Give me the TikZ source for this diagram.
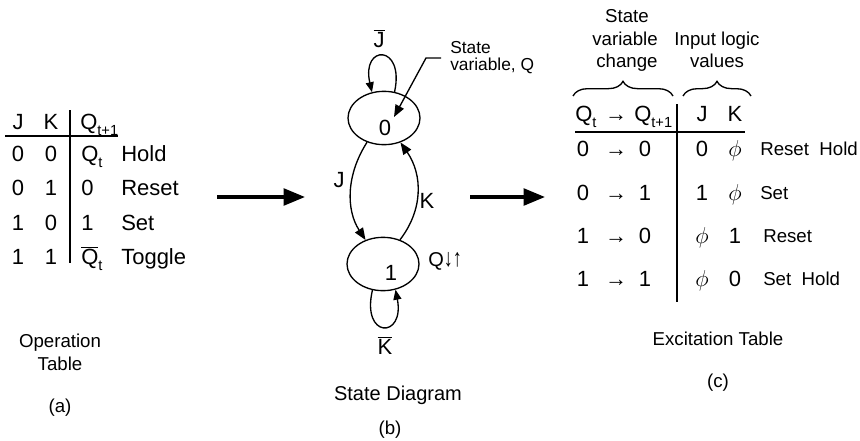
\documentclass[tikz,border=0pt]{standalone}
\usepackage{fontspec}
\usepackage{graphicx}
\setmainfont{Liberation Sans}
\usetikzlibrary{arrows.meta,decorations.pathreplacing,shapes.geometric}
\newcommand{\lowsub}[1]{\raisebox{-0.55ex}{\fontsize{11}{11}\selectfont #1}}
\newcommand{\barred}[1]{$\overline{\mbox{#1}}$}
\begin{document}
\begin{tikzpicture}[x=0.75pt,y=-0.75pt,
  txt/.style={inner sep=0pt, anchor=base, font=\fontsize{16.5}{18}\selectfont},
  lbl/.style={inner sep=0pt, anchor=base west, font=\fontsize{16.5}{18}\selectfont},
  slbl/.style={inner sep=0pt, anchor=base west, font=\fontsize{14}{16}\selectfont},
  captxt/.style={inner sep=0pt, anchor=base, font=\fontsize{14}{16}\selectfont},
  notetxt/.style={inner sep=0pt, anchor=base west, font=\fontsize{13}{14}\selectfont},
  tabrule/.style={line width=1.5pt},
  statebox/.style={draw, ellipse, line width=1pt, minimum width=54pt, minimum height=40pt, inner sep=0pt},
  trans/.style={line width=1pt, -{Triangle[length=9pt,width=7pt]}},
  looptrans/.style={line width=1pt, -{Triangle[length=7.5pt,width=6pt]}},
  bigarrow/.style={line width=2.5pt, -{Triangle[length=16pt,width=12.5pt]}},
  bracestyle/.style={line width=1pt, decorate, decoration={brace, amplitude=11pt}},
]
\useasboundingbox (0,0) rectangle (860,440);

% ---------- (a) operation table ----------
\node[txt] (lj) at (18,129) {J};
\node[txt] (lk) at (51,129) {K};
\node[lbl] (lq) at (80,129) {Q\lowsub{t+1}};
\coordinate (lh1) at (5,136); \coordinate (lh2) at (118,136);
\draw[tabrule] (lh1) -- (lh2);
\coordinate (lv1) at (70,110); \coordinate (lv2) at (70,263);
\draw[tabrule] (lv1) -- (lv2);

\node[txt] (a11) at (18,161) {0}; \node[txt] (a12) at (51,161) {0};
\node[lbl] (a13) at (81,161) {Q\lowsub{t}}; \node[lbl] (a14) at (121,161) {Hold};
\node[txt] (a21) at (18,195) {0}; \node[txt] (a22) at (51,195) {1};
\node[lbl] (a23) at (81,195) {0}; \node[lbl] (a24) at (121,195) {Reset};
\node[txt] (a31) at (18,230) {1}; \node[txt] (a32) at (51,230) {0};
\node[lbl] (a33) at (81,230) {1}; \node[lbl] (a34) at (121,230) {Set};
\node[txt] (a41) at (18,264) {1}; \node[txt] (a42) at (51,264) {1};
\node[lbl] (a43) at (81,264) {\barred{Q}\lowsub{t}}; \node[lbl] (a44) at (121,264) {Toggle};

\node[captxt] (opa) at (60,347) {Operation};
\node[captxt] (opb) at (60,370) {Table};
\node[captxt] (opc) at (60,412) {(a)};

% ---------- arrows between parts ----------
\coordinate (b1s) at (217,197); \coordinate (b1e) at (305,197);
\draw[bigarrow] (b1s) -- (b1e);
\coordinate (b2s) at (470,197); \coordinate (b2e) at (545,197);
\draw[bigarrow] (b2s) -- (b2e);

% ---------- (b) state diagram ----------
\node[statebox] (s0) at (384,118) {};
\node[statebox] (s1) at (383,264) {};
\node[txt] (d0) at (385,135) {0};
\node[txt] (d1) at (391,280) {1};

\draw[looptrans] (s0.68) .. controls (405,44) and (361,44) .. (s0.115);
\node[txt] (jbar) at (379,47) {\barred{J}};
\draw[looptrans] (s1.-112) .. controls (361,339) and (405,339) .. (s1.-64);
\node[txt] (kbar) at (385,354) {\barred{K}};

\draw[trans] (s0.-125) .. controls (346,175) and (346,210) .. (s1.126);
\node[txt] (jl) at (339,187) {J};
\draw[trans] (s1.55) .. controls (423,210) and (423,175) .. (s0.-56);
\node[txt] (kl) at (427,208) {K};

\node[slbl, font=\fontsize{15}{16}\selectfont] (qud) at (428,266) {Q\scalebox{0.9}[1.25]{↓↑}};

\node[notetxt] (sv1) at (450,53) {State};
\node[notetxt] (sv2) at (450,70) {variable, Q};
\coordinate (svl) at (441,58);
\coordinate (svk) at (426,58);
\coordinate (svtip) at (394,117);
\draw[trans] (svl) -- (svk) -- (svtip);

\node[captxt, font=\fontsize{15}{16}\selectfont] (sda) at (398,400) {State Diagram};
\node[captxt] (sdb) at (390,434) {(b)};

% ---------- (c) excitation table ----------
\node[captxt] (t1) at (627,22) {State};
\node[captxt] (t2) at (625,45) {variable};
\node[captxt] (t3) at (627,67) {change};
\node[captxt] (t4) at (717,45) {Input logic};
\node[captxt] (t5) at (717,67) {values};
\coordinate (br1a) at (573,96); \coordinate (br1b) at (673,96);
\draw[bracestyle] (br1a) -- (br1b);
\coordinate (br2a) at (683,96); \coordinate (br2b) at (751,96);
\draw[bracestyle] (br2a) -- (br2b);

\node[lbl] (hq1) at (575,121) {Q\lowsub{t}};
\node[txt] (harr) at (616,121) {→};
\node[lbl] (hq2) at (634,121) {Q\lowsub{t+1}};
\node[txt] (hj) at (702,121) {J};
\node[txt] (hk) at (735,121) {K};
\coordinate (rh1) at (575,132); \coordinate (rh2) at (745,132);
\draw[tabrule] (rh1) -- (rh2);
\coordinate (rv1) at (677,104); \coordinate (rv2) at (677,302);
\draw[tabrule] (rv1) -- (rv2);

\node[txt] (c11) at (583,156) {0}; \node[txt] (c12) at (616,156) {→}; \node[txt] (c13) at (645,156) {0};
\node[txt] (c14) at (702,156) {0}; \node[txt] (c15) at (735,156) {$\phi$};
\node[slbl] (c16) at (760,155) {Reset\ \ Hold};
\node[txt] (c21) at (583,200) {0}; \node[txt] (c22) at (616,200) {→}; \node[txt] (c23) at (645,200) {1};
\node[txt] (c24) at (702,200) {1}; \node[txt] (c25) at (735,200) {$\phi$};
\node[slbl] (c26) at (760,199) {Set};
\node[txt] (c31) at (583,243) {1}; \node[txt] (c32) at (616,243) {→}; \node[txt] (c33) at (645,243) {0};
\node[txt] (c34) at (702,243) {$\phi$}; \node[txt] (c35) at (735,243) {1};
\node[slbl] (c36) at (763,242) {Reset};
\node[txt] (c41) at (583,286) {1}; \node[txt] (c42) at (616,286) {→}; \node[txt] (c43) at (645,286) {1};
\node[txt] (c44) at (702,286) {$\phi$}; \node[txt] (c45) at (735,286) {0};
\node[slbl] (c46) at (763,285) {Set\ \ Hold};

\node[captxt] (exa) at (718,345) {Excitation Table};
\node[captxt] (exb) at (718,387) {(c)};
\end{tikzpicture}
\end{document}
